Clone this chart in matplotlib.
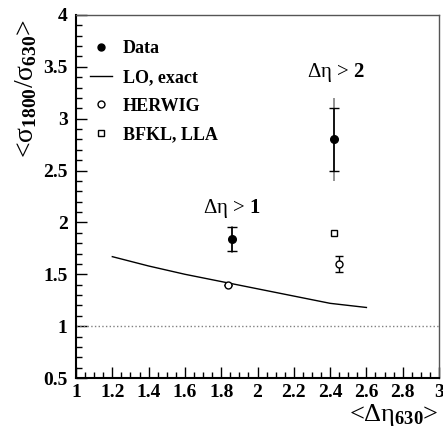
#!/usr/bin/env python3

import numpy as np
import matplotlib.pyplot as plt
from matplotlib.lines import Line2D
from matplotlib.ticker import MultipleLocator

plt.rcParams['font.family'] = ['Liberation Serif', 'DejaVu Serif']
plt.rcParams['mathtext.fontset'] = 'custom'
plt.rcParams['mathtext.rm'] = 'Liberation Serif'
plt.rcParams['mathtext.it'] = 'Liberation Serif'
plt.rcParams['mathtext.bf'] = 'Liberation Serif:bold'

# Data points (mean eta, ratio, stat error, total error)
data_x = [1.86, 2.42]
data_y = [1.84, 2.80]
data_stat = [0.12, 0.30]
data_tot = [0.13, 0.40]

# LO exact curve
lo_x = [1.2, 1.4, 1.6, 1.8, 2.0, 2.2, 2.4, 2.6]
lo_y = [1.67, 1.58, 1.50, 1.43, 1.36, 1.29, 1.22, 1.18]

# HERWIG
herwig_x = [1.84, 2.45]
herwig_y = [1.40, 1.60]
herwig_err = [0.0, 0.075]

# BFKL, LLA
bfkl_x = [2.42]
bfkl_y = [1.90]

fig = plt.figure(figsize=(4.43, 4.28), dpi=100)
ax = fig.add_axes([0.1716, 0.1168, 0.8194, 0.8482])

ax.axhline(1.0, color='grey', linestyle=':', linewidth=1.0)
ax.plot(lo_x, lo_y, color='black', linewidth=1.0)

ax.errorbar(data_x, data_y, yerr=data_tot, fmt='none', ecolor='grey', elinewidth=1.2)
ax.errorbar(data_x, data_y, yerr=data_stat, fmt='o', color='black', markersize=5.5,
            elinewidth=1.2, capsize=3.5, capthick=1.0)
ax.errorbar(herwig_x, herwig_y, yerr=herwig_err, fmt='o', mfc='white', mec='black',
            ecolor='black', markersize=5, elinewidth=1.0, capsize=3, capthick=1.0)
ax.plot(bfkl_x, bfkl_y, 's', mfc='white', mec='black', markersize=5)

ax.text(1.86, 2.13, r'$\Delta\eta$ > $\mathbf{1}$', ha='center', va='center', fontsize=15)
ax.text(2.43, 3.45, r'$\Delta\eta$ > $\mathbf{2}$', ha='center', va='center', fontsize=15)

handles = [Line2D([], [], marker='o', color='black', linestyle='none', markersize=5),
           Line2D([], [], color='black', linewidth=1.0),
           Line2D([], [], marker='o', mfc='white', mec='black', linestyle='none', markersize=5),
           Line2D([], [], marker='s', mfc='white', mec='black', linestyle='none', markersize=5)]
labels = ['Data', 'LO, exact', 'HERWIG', 'BFKL, LLA']
ax.legend(handles, labels, loc='upper left', bbox_to_anchor=(-0.005, 0.975), frameon=False,
          handlelength=1.2, handletextpad=0.6, labelspacing=0.65,
          prop={'weight': 'bold', 'size': 13})

ax.set_xlim(1, 3)
ax.set_ylim(0.5, 4)
ax.xaxis.set_major_locator(MultipleLocator(0.2))
ax.xaxis.set_minor_locator(MultipleLocator(0.05))
ax.yaxis.set_major_locator(MultipleLocator(0.5))
ax.yaxis.set_minor_locator(MultipleLocator(0.1))
ax.xaxis.set_major_formatter(plt.FuncFormatter(lambda v, p: ('%g' % round(v, 2))))
ax.yaxis.set_major_formatter(plt.FuncFormatter(lambda v, p: ('%g' % round(v, 2))))
ax.tick_params(which='both', direction='in', top=False, right=False, labelsize=14)
ax.tick_params(which='major', length=8, width=1.0)
ax.tick_params(which='minor', length=4, width=1.0)
for lab in ax.get_xticklabels() + ax.get_yticklabels():
    lab.set_fontweight('bold')
ax.tick_params(axis='x', pad=4)
ax.tick_params(axis='y', pad=6)

for s in ['left', 'bottom']:
    ax.spines[s].set_linewidth(1.5)
for s in ['top', 'right']:
    ax.spines[s].set_linewidth(1.0)
    ax.spines[s].set_color('#555555')

fig.text(0.99, 0.0, r'<$\Delta\eta_{\mathbf{630}}$>', ha='right', va='bottom', fontsize=19)
fig.text(0.03, 0.955, r'<$\sigma_{\mathbf{1800}}/\sigma_{\mathbf{630}}$>', ha='left', va='top',
         rotation=90, fontsize=20)

fig.savefig('out.png', dpi=100)
